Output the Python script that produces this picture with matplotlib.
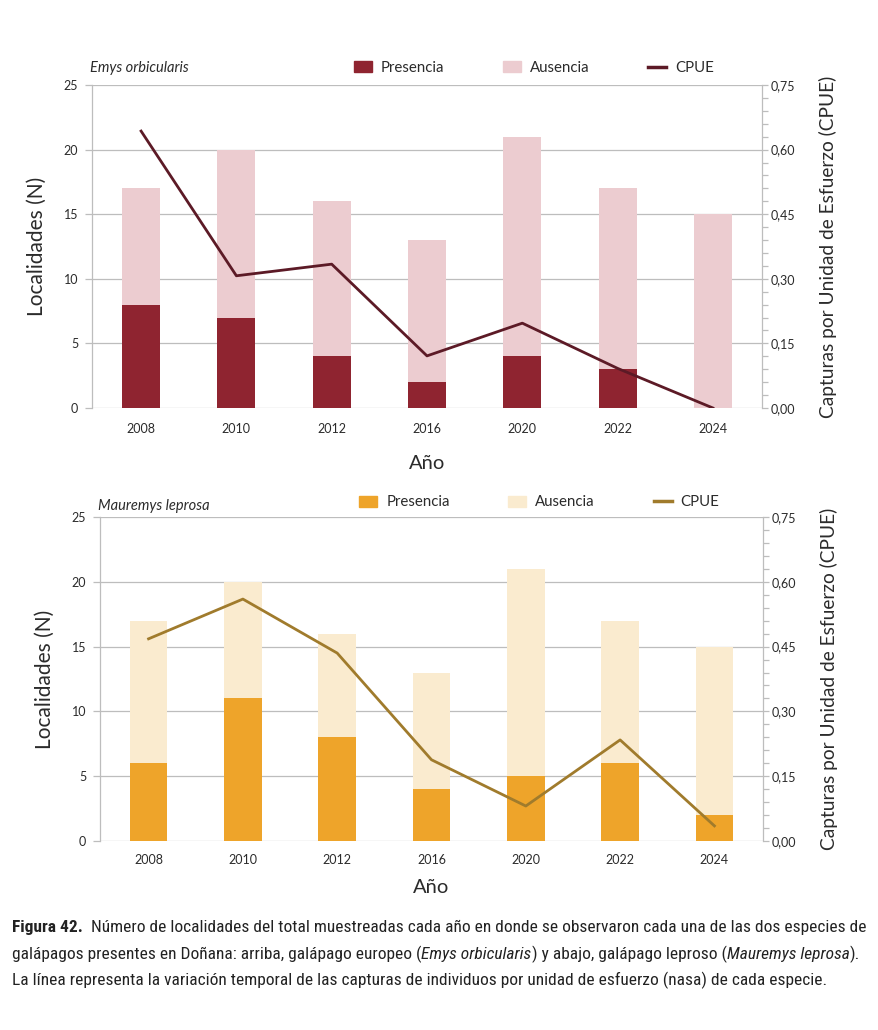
import matplotlib
matplotlib.use("Agg")
import matplotlib.pyplot as plt
import matplotlib.font_manager as fm
import numpy as np
from matplotlib.patches import Patch
from matplotlib.lines import Line2D
from matplotlib.ticker import MultipleLocator, FuncFormatter

# ---------------- data ----------------
years = ["2008", "2010", "2012", "2016", "2020", "2022", "2024"]
total_sampled = [17, 20, 16, 13, 21, 17, 15]

emys_presence = [8, 7, 4, 2, 4, 3, 0]
emys_cpue = [0.643, 0.307, 0.334, 0.121, 0.197, 0.092, 0.0]

mauremys_presence = [6, 11, 8, 4, 5, 6, 2]
mauremys_cpue = [0.468, 0.560, 0.435, 0.188, 0.081, 0.234, 0.035]

left_ticks = [0, 5, 10, 15, 20, 25]
right_ticks = [0.0, 0.15, 0.30, 0.45, 0.60, 0.75]

species = ["Emys orbicularis", "Mauremys leprosa"]
legend_labels = ["Presencia", "Ausencia", "CPUE"]

# ---------------- style ----------------
FONT = "Lato"
plt.rcParams["font.family"] = [FONT, "DejaVu Sans"]
TXT = "#2b2b2b"
GRID = "#bdbdbd"

styles = [
    dict(pres="#8f2430", aus="#ecccd0", line="#5c1a26"),
    dict(pres="#eea42a", aus="#faebcf", line="#a07b2c"),
]

fig = plt.figure(figsize=(8.79, 10.30), dpi=100)

axes_rects = [
    [92 / 879, 1 - 408 / 1030, 670 / 879, 323 / 1030],
    [100 / 879, 1 - 841 / 1030, 663 / 879, 324 / 1030],
]
title_y = [1.03, 1.013]
legend_y = [1.008, 1.0]
xlabel_pad = [14, 10]
xtick_pad = [11, 9]
presences = [emys_presence, mauremys_presence]
cpues = [emys_cpue, mauremys_cpue]

x = np.arange(len(years))
width = 0.40

for i in range(2):
    st = styles[i]
    ax = fig.add_axes(axes_rects[i])
    pres = np.array(presences[i])
    aus = np.array(total_sampled) - pres
    ax.bar(x, pres, width, color=st["pres"], zorder=2)
    ax.bar(x, aus, width, bottom=pres, color=st["aus"], zorder=2)
    ax.set_xlim(-0.515, len(years) - 1 + 0.515)
    ax.set_ylim(0, 25)
    ax.set_yticks(left_ticks)
    ax.set_xticks(x)
    ax.set_xticklabels(years)
    ax.grid(axis="y", color=GRID, lw=0.9, zorder=0)
    ax.set_axisbelow(True)
    for s in ["top", "right", "bottom"]:
        ax.spines[s].set_visible(False)
    ax.spines["left"].set_color(GRID)
    ax.spines["left"].set_linewidth(0.9)
    ax.tick_params(axis="y", length=5, color=GRID, width=0.9, pad=5,
                   labelsize=9, labelcolor=TXT)
    ax.tick_params(axis="x", length=0, pad=xtick_pad[i], labelsize=9, labelcolor=TXT)
    ax.set_xlabel("Año", fontsize=14.5, color=TXT, labelpad=xlabel_pad[i])
    ax.set_ylabel("Localidades (N)", fontsize=15, color=TXT, labelpad=12)

    ax2 = ax.twinx()
    ax2.plot(x, cpues[i], color=st["line"], lw=2.0, zorder=3)
    ax2.set_ylim(0, 0.75)
    ax2.set_yticks(right_ticks)
    ax2.yaxis.set_minor_locator(MultipleLocator(0.03))
    ax2.yaxis.set_major_formatter(FuncFormatter(lambda v, p: f"{v:.2f}".replace(".", ",")))
    for s in ["top", "left", "bottom"]:
        ax2.spines[s].set_visible(False)
    ax2.spines["right"].set_color(GRID)
    ax2.spines["right"].set_linewidth(0.9)
    ax2.tick_params(axis="y", which="major", length=4, color=GRID, width=0.9,
                    pad=2, labelsize=9, labelcolor=TXT)
    ax2.tick_params(axis="y", which="minor", length=4, color=GRID, width=0.9)
    ax2.set_ylabel("Capturas por Unidad de Esfuerzo (CPUE)", fontsize=13.8,
                   color=TXT, labelpad=17)

    ax.text(-0.003, title_y[i], species[i], transform=ax.transAxes, style="italic",
            fontsize=10.5, color=TXT, ha="left", va="bottom")

    handles = [Patch(color=st["pres"]), Patch(color=st["aus"]),
               Line2D([0], [0], color=st["line"], lw=2.5)]
    ax.legend(handles, legend_labels, ncol=3,
              loc="lower left", bbox_to_anchor=(0.38, legend_y[i]), frameon=False,
              fontsize=10.8, handlelength=1.2, handleheight=0.75,
              handletextpad=0.6, columnspacing=3.9, borderaxespad=0.1,
              labelcolor=TXT)

# ---------------- caption ----------------
def _is_cond(f):
    s = (f.name + " " + f.fname).lower()
    st = str(f.stretch).lower()
    bad = ("semi" in s) or ("extra" in s) or ("ultra" in s) or ("mono" in s) or ("serif" in s and "sans" not in s)
    return (("condensed" in s) or ("narrow" in s) or ("condensed" in st)) and not bad

def _w(f):
    w = f.weight
    if isinstance(w, str):
        return {"normal": 400, "regular": 400, "bold": 700, "book": 400,
                "medium": 500, "light": 300}.get(w.lower(), 400)
    return int(w)

cond = [f for f in fm.fontManager.ttflist if _is_cond(f)]
pref = ["Liberation Sans Narrow", "Roboto Condensed", "Open Sans Condensed",
        "Noto Sans", "Open Sans", "DejaVu Sans", "Roboto", "Lato", "Inter"]

def pick_cond():
    for fam in pref:
        fams = [f for f in cond if f.name.startswith(fam)]
        reg = [f for f in fams if _w(f) == 400 and f.style == "normal"]
        if reg:
            bold = [f for f in fams if _w(f) == 700 and f.style == "normal"]
            ital = [f for f in fams if _w(f) == 400 and f.style != "normal"]
            return reg[0].fname, (bold[0].fname if bold else reg[0].fname), \
                (ital[0].fname if ital else reg[0].fname)
    return None

picked = pick_cond()

def props(wt, sty, size):
    if picked is not None:
        fn = picked[0]
        if wt == "bold":
            fn = picked[1]
        elif sty == "italic":
            fn = picked[2]
        return fm.FontProperties(fname=fn, size=size)
    return fm.FontProperties(family=["DejaVu Sans"], weight=wt, style=sty, size=size)

lines = [
    [("Figura 42.", "bold", "normal"),
     ("  Número de localidades del total muestreadas cada año en donde se observaron cada una de las dos especies de", "normal", "normal")],
    [("galápagos presentes en Doñana: arriba, galápago europeo (", "normal", "normal"),
     ("Emys orbicularis", "normal", "italic"),
     (") y abajo, galápago leproso (", "normal", "normal"),
     ("Mauremys leprosa", "normal", "italic"),
     (").", "normal", "normal")],
    [("La línea representa la variación temporal de las capturas de individuos por unidad de esfuerzo (nasa) de cada especie.", "normal", "normal")],
]
baselines = [932, 959, 985]
renderer = fig.canvas.get_renderer()

def line_width(parts, size):
    tot = 0
    for txt, wt, sty in parts:
        t = fig.text(0, 0, txt, fontproperties=props(wt, sty, size))
        tot += t.get_window_extent(renderer=renderer).width
        t.remove()
    return tot

size0 = 12.0
w0 = line_width(lines[0], size0)
cap_size = min(12.5, size0 * 848.0 / w0)

for parts, yb in zip(lines, baselines):
    xpos = 12
    for txt, wt, sty in parts:
        t = fig.text(xpos / 879, 1 - yb / 1030, txt, fontproperties=props(wt, sty, cap_size),
                     color="#222222", ha="left", va="baseline")
        xpos += t.get_window_extent(renderer=renderer).width

fig.savefig("out.png", dpi=100)
